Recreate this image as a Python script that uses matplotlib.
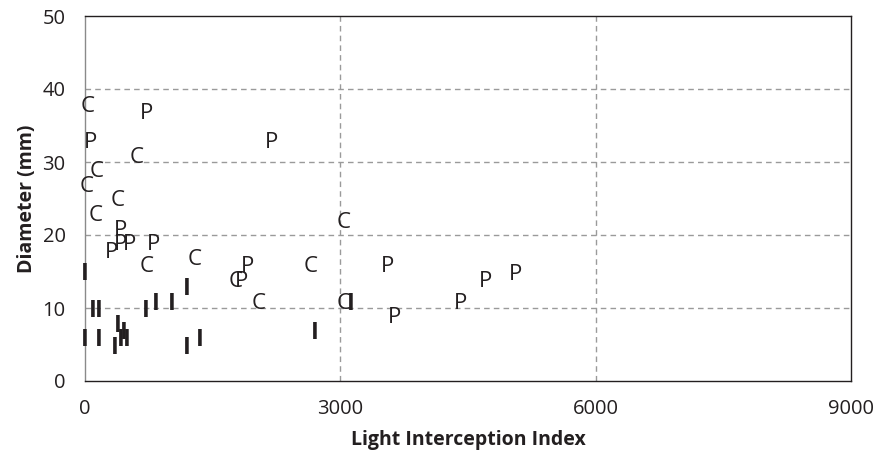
import matplotlib
matplotlib.use("Agg")
import matplotlib.pyplot as plt

# Light interception index vs stem diameter, by group
c_x = [30, 610, 140, 20, 380, 120, 3040, 725, 1290, 2650, 1765, 2040, 3040]
c_y = [38, 31, 29, 27, 25, 23, 22, 16, 17, 16, 14, 11, 11]

p_x = [725, 60, 2190, 421, 420, 517, 306, 810, 1910, 3555, 1835, 4700, 5055, 4410, 3635]
p_y = [37, 33, 33, 21, 19, 19, 18, 19, 16, 16, 14, 14, 15, 11, 9]

i_x = [0, 95, 165, 720, 830, 1015, 1195, 0, 165, 345, 390, 415, 460, 495, 1200, 1345, 2705, 3125]
i_y = [15, 10, 10, 10, 11, 11, 13, 6, 6, 5, 8, 6, 7, 6, 5, 6, 7, 11]

x_ticks = [0, 3000, 6000, 9000]
y_ticks = [0, 10, 20, 30, 40, 50]

ink = "#231f20"
plt.rcParams["font.family"] = ["Open Sans", "DejaVu Sans"]

fig = plt.figure(figsize=(8.79, 4.53), dpi=100)
ax = fig.add_axes([85 / 879, 72 / 453, 766 / 879, 365 / 453])

ax.set_xlim(0, 9000)
ax.set_ylim(0, 50)
ax.set_xticks(x_ticks)
ax.set_yticks(y_ticks)
ax.set_xticklabels([str(v) for v in x_ticks])
ax.set_yticklabels([str(v) for v in y_ticks])
ax.tick_params(length=0, labelsize=14.5, colors=ink)
ax.tick_params(axis="x", pad=13)
ax.tick_params(axis="y", pad=14)

for v in x_ticks[1:-1]:
    ax.axvline(v, color="#9a9a9a", lw=1.0, ls=(0, (4, 3)), zorder=0)
for v in y_ticks[1:-1]:
    ax.axhline(v, color="#9a9a9a", lw=1.0, ls=(0, (4, 3)), zorder=0)

for name, sp in ax.spines.items():
    sp.set_linewidth(1.0)
    sp.set_color("#8a8a8a" if name == "left" else ink)

for x, y in zip(c_x, c_y):
    ax.text(x, y, "C", ha="center", va="center_baseline", fontsize=16, color=ink)
for x, y in zip(p_x, p_y):
    ax.text(x, y, "P", ha="center", va="center_baseline", fontsize=16, color=ink)
for x, y in zip(i_x, i_y):
    ax.text(x, y, "I", ha="center", va="center_baseline", fontsize=17,
            fontweight="bold", color=ink)

ax.set_xlabel("Light Interception Index", fontsize=14, fontweight="bold",
              color=ink, labelpad=8)
ax.set_ylabel("Diameter (mm)", fontsize=14, fontweight="bold",
              color=ink, labelpad=4)

fig.savefig("out.png", dpi=100)
